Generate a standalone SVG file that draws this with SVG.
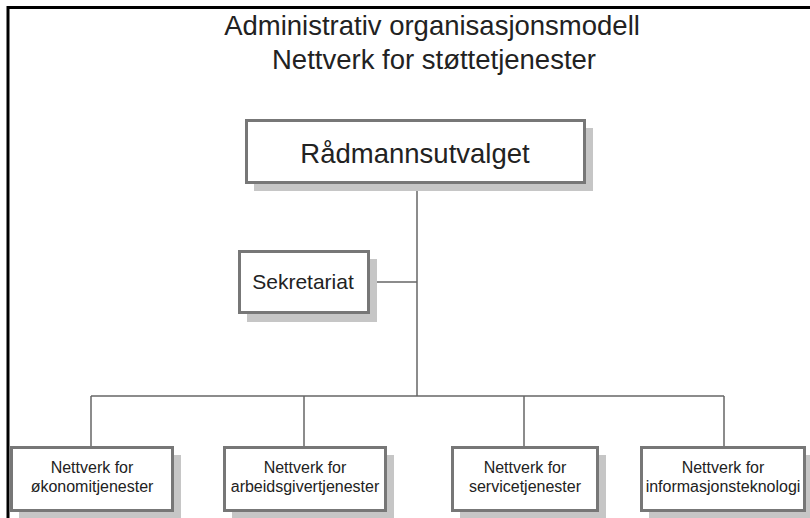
<svg xmlns="http://www.w3.org/2000/svg" width="810" height="518" viewBox="0 0 810 518">
<style>
.frame{fill:none;stroke:#000;stroke-width:3}
.shadow{fill:#c6c6c6}
.box{fill:#fff;stroke:#777;stroke-width:3}
.conn{fill:none;stroke:#666;stroke-width:1.5}
text{font-family:"Liberation Sans",Arial,sans-serif;fill:#222;text-anchor:middle}
.title{font-size:27.5px}
.big{font-size:27.5px}
.mid{font-size:21px}
.small{font-size:16px}
</style>
<rect width="810" height="518" fill="#fff"/>
<path class="frame" d="M8,520 V7.5 H812"/>
<g id="title">
<text class="title" x="432" y="35">Administrativ organisasjonsmodell</text>
<text class="title" x="434" y="69">Nettverk for støttetjenester</text>
</g>
<g id="connectors">
<path class="conn" d="M417,183 V396"/>
<path class="conn" d="M368,282 H417"/>
<path class="conn" d="M91,396 H724"/>
<path class="conn" d="M91,396 V447"/>
<path class="conn" d="M304,396 V447"/>
<path class="conn" d="M524,396 V447"/>
<path class="conn" d="M724,396 V447"/>
</g>
<g id="raadmannsutvalget">
<rect class="shadow" x="254" y="128" width="339" height="63"/>
<rect class="box" x="246.5" y="120.5" width="338" height="62"/>
<text class="big" x="415" y="163">Rådmannsutvalget</text>
</g>
<g id="sekretariat">
<rect class="shadow" x="247" y="259" width="130" height="63"/>
<rect class="box" x="239.5" y="251.5" width="129" height="61"/>
<text class="mid" x="303" y="289">Sekretariat</text>
</g>
<g id="okonomi">
<rect class="shadow" x="19" y="455" width="162" height="70"/>
<rect class="box" x="11.5" y="447.5" width="161" height="63"/>
<text class="small" x="92" y="473">Nettverk for</text>
<text class="small" x="92" y="492">økonomitjenester</text>
</g>
<g id="arbeidsgiver">
<rect class="shadow" x="232" y="455" width="162" height="70"/>
<rect class="box" x="224.5" y="447.5" width="161" height="63"/>
<text class="small" x="305" y="473">Nettverk for</text>
<text class="small" x="305" y="492">arbeidsgivertjenester</text>
</g>
<g id="service">
<rect class="shadow" x="460" y="455" width="146" height="70"/>
<rect class="box" x="452.5" y="447.5" width="145" height="63"/>
<text class="small" x="525" y="473">Nettverk for</text>
<text class="small" x="525" y="492">servicetjenester</text>
</g>
<g id="it">
<rect class="shadow" x="649" y="455" width="164" height="70"/>
<rect class="box" x="641.5" y="447.5" width="163" height="63"/>
<text class="small" x="723" y="473">Nettverk for</text>
<text class="small" x="723" y="492">informasjonsteknologi</text>
</g>
</svg>
